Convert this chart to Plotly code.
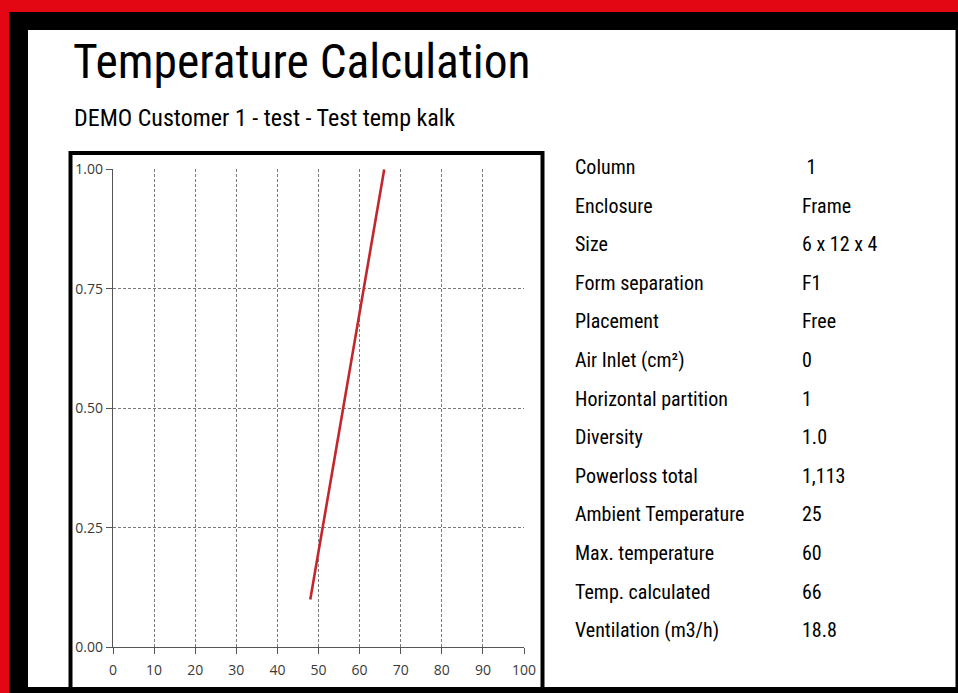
import plotly.graph_objects as go

W, H = 958, 693

# data
temperature = [48, 66]
height_frac = [0.10, 1.00]
x_ticks = [0, 10, 20, 30, 40, 50, 60, 70, 80, 90, 100]
y_ticks = [0.00, 0.25, 0.50, 0.75, 1.00]
y_tick_labels = ["0.00", "0.25", "0.50", "0.75", "1.00"]

info_labels = ["Column", "Enclosure", "Size", "Form separation", "Placement",
               "Air Inlet (cm²)", "Horizontal partition", "Diversity",
               "Powerloss total", "Ambient Temperature", "Max. temperature",
               "Temp. calculated", "Ventilation (m3/h)"]
info_values = [" 1", "Frame", "6 x 12 x 4", "F1", "Free", "0", "1", "1.0",
               "1,113", "25", "60", "66", "18.8"]

title_text = "Temperature Calculation"
subtitle_text = "DEMO Customer 1 - test - Test temp kalk"

NARROW = "Liberation Sans Narrow, Arial Narrow, Roboto Condensed, Roboto, sans-serif"
TICKFONT = dict(family="Open Sans, DejaVu Sans, sans-serif", size=14, color="#3a3a3a")


def px(x):
    return x / W


def py(y):
    return 1 - y / H


fig = go.Figure()
fig.add_trace(go.Scatter(x=temperature, y=height_frac, mode="lines",
                         line=dict(color="#c1272d", width=2.6),
                         showlegend=False, hoverinfo="skip"))

shapes = [
    dict(type="rect", xref="paper", yref="paper", x0=px(9), x1=px(W), y0=py(H), y1=py(12),
         fillcolor="#000000", line=dict(width=0), layer="below"),
    dict(type="rect", xref="paper", yref="paper", x0=px(28), x1=px(955.5), y0=py(687), y1=py(30),
         fillcolor="#ffffff", line=dict(width=0), layer="below"),
    dict(type="rect", xref="paper", yref="paper", x0=px(70.5), x1=px(542.5), y0=py(690), y1=py(153),
         fillcolor="rgba(0,0,0,0)", line=dict(color="#000000", width=4), layer="below"),
]

annotations = [
    dict(text=title_text, x=px(71), y=py(62), xref="paper", yref="paper",
         xanchor="left", yanchor="middle", showarrow=False,
         font=dict(family=NARROW, size=47.5, color="#000000")),
    dict(text=subtitle_text, x=px(72), y=py(118), xref="paper", yref="paper",
         xanchor="left", yanchor="middle", showarrow=False,
         font=dict(family=NARROW, size=24, color="#000000")),
]

row0, step = 167, 38.6
for i, (lab, val) in enumerate(zip(info_labels, info_values)):
    yy = row0 + i * step
    annotations.append(dict(text=lab, x=px(573), y=py(yy), xref="paper", yref="paper",
                            xanchor="left", yanchor="middle", showarrow=False,
                            font=dict(family=NARROW, size=20, color="#000000")))
    annotations.append(dict(text=val, x=px(800), y=py(yy), xref="paper", yref="paper",
                            xanchor="left", yanchor="middle", showarrow=False,
                            font=dict(family=NARROW, size=20, color="#000000")))

axis_common = dict(showgrid=True, gridcolor="#7a7a7a", griddash="3px,2px", gridwidth=1,
                   showline=True, linecolor="#555555", linewidth=1.3,
                   ticks="outside", ticklen=6, tickcolor="#555555", tickwidth=1.3,
                   zeroline=False, tickfont=TICKFONT, fixedrange=True)

fig.update_layout(
    width=W, height=H,
    margin=dict(l=0, r=0, t=0, b=0, autoexpand=False),
    paper_bgcolor="#e30613",
    plot_bgcolor="rgba(0,0,0,0)",
    shapes=shapes,
    annotations=annotations,
    xaxis=dict(domain=[px(113), px(524)], range=[0, 100], tickvals=x_ticks,
               ticklabelstandoff=4, **axis_common),
    yaxis=dict(domain=[py(647.3), py(169.3)], range=[0, 1], tickvals=y_ticks,
               ticktext=y_tick_labels, ticklabelstandoff=0, **axis_common),
)

fig.write_html("out.html", config={"displayModeBar": False},
               post_script="document.body.style.margin='0';document.body.style.padding='0';"
                           "document.documentElement.style.overflow='hidden';")
